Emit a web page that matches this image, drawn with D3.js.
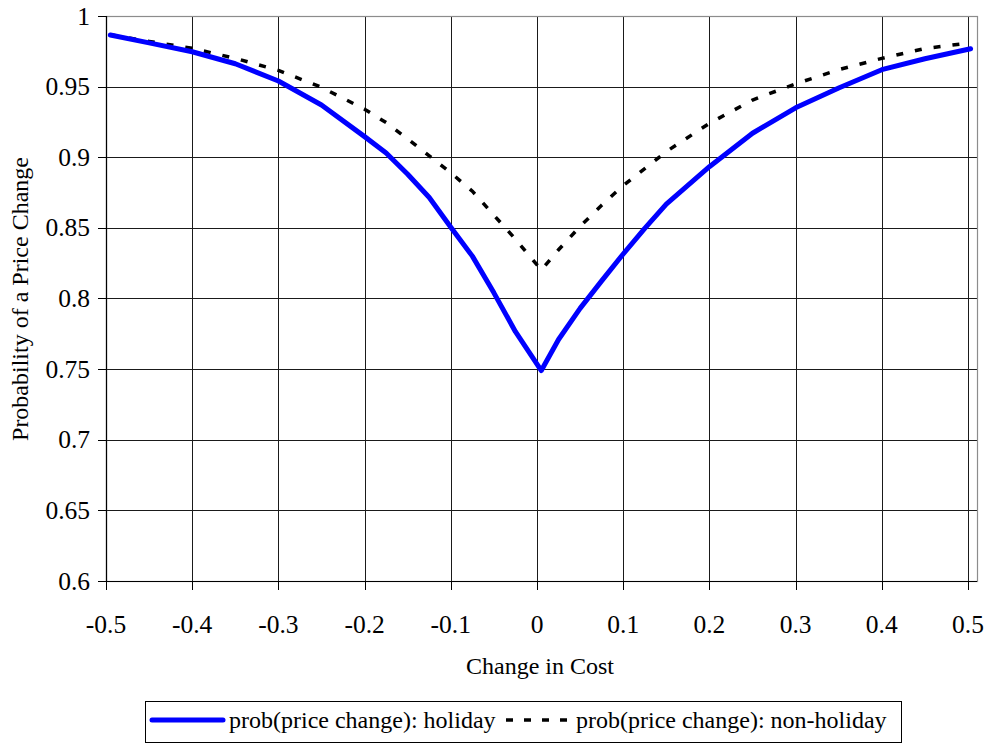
<!DOCTYPE html>
<html>
<head>
<meta charset="utf-8">
<script src="https://cdn.jsdelivr.net/npm/d3@7"></script>
<style>
  html, body { margin: 0; padding: 0; background: #fff; }
  svg { display: block; }
  svg text { font-family: "Liberation Serif", "DejaVu Serif", serif; }
</style>
</head>
<body>
<svg id="chart" width="992" height="743"></svg>
<script>
// ---- data ----
const costChange = [-0.495, -0.45, -0.4, -0.35, -0.3, -0.25, -0.2, -0.175, -0.15, -0.125, -0.1, -0.075, -0.05, -0.025, 0.005, 0.025, 0.05, 0.075, 0.1, 0.125, 0.15, 0.2, 0.25, 0.3, 0.35, 0.4, 0.45, 0.503];
const holiday = [0.9865, 0.981, 0.9747, 0.9662, 0.954, 0.937, 0.9146, 0.903, 0.888, 0.8715, 0.8505, 0.830, 0.804, 0.7765, 0.749, 0.771, 0.793, 0.8125, 0.8315, 0.8497, 0.8668, 0.8933, 0.917, 0.935, 0.949, 0.962, 0.9697, 0.9768];
const nonHoliday = [0.9868, 0.982, 0.9771, 0.970, 0.9615, 0.9495, 0.934, 0.9245, 0.913, 0.901, 0.889, 0.876, 0.859, 0.842, 0.8202, 0.8345, 0.851, 0.866, 0.880, 0.892, 0.904, 0.924, 0.9405, 0.952, 0.962, 0.970, 0.977, 0.981];
const xTicks = [-0.5, -0.4, -0.3, -0.2, -0.1, 0, 0.1, 0.2, 0.3, 0.4, 0.5];
const xTickLabels = ["-0.5", "-0.4", "-0.3", "-0.2", "-0.1", "0", "0.1", "0.2", "0.3", "0.4", "0.5"];
const yTicks = [0.6, 0.65, 0.7, 0.75, 0.8, 0.85, 0.9, 0.95, 1];
const yTickLabels = ["0.6", "0.65", "0.7", "0.75", "0.8", "0.85", "0.9", "0.95", "1"];
const seriesNames = ["prob(price change): holiday", "prob(price change): non-holiday"];
const xTitle = "Change in Cost";
const yTitle = "Probability of a Price Change";

// ---- layout ----
const FONT = "Liberation Serif, DejaVu Serif, serif";
const svg = d3.select("#chart").attr("font-family", FONT);
const pLeft = 106, pRight = 968, frameRight = 977, pTop = 16, pBottom = 581;
const x = d3.scaleLinear().domain([-0.5, 0.5]).range([pLeft, pRight]);
const y = d3.scaleLinear().domain([0.6, 1]).range([pBottom, pTop]);

// gridlines
const grid = svg.append("g");
grid.selectAll("line.v").data(xTicks.filter(d => d > -0.5)).enter().append("line")
  .attr("x1", d => Math.round(x(d)) + 0.5).attr("x2", d => Math.round(x(d)) + 0.5)
  .attr("y1", pTop).attr("y2", pBottom)
  .attr("stroke", "#1a1a1a").attr("stroke-width", 1);
grid.selectAll("line.h").data(yTicks.filter(d => d > 0.6 && d < 1)).enter().append("line")
  .attr("x1", pLeft).attr("x2", frameRight)
  .attr("y1", d => Math.round(y(d)) + 0.5).attr("y2", d => Math.round(y(d)) + 0.5)
  .attr("stroke", "#1a1a1a").attr("stroke-width", 1);

// plot frame (gray)
svg.append("rect")
  .attr("x", pLeft + 0.5).attr("y", pTop + 0.5)
  .attr("width", frameRight - pLeft).attr("height", pBottom - pTop)
  .attr("fill", "none").attr("stroke", "#8c8c8c").attr("stroke-width", 1.2);

// axes
svg.append("line").attr("x1", pLeft + 0.5).attr("x2", pLeft + 0.5).attr("y1", pTop).attr("y2", pBottom + 0.5)
  .attr("stroke", "#000").attr("stroke-width", 1.2);
svg.append("line").attr("x1", pLeft).attr("x2", frameRight).attr("y1", pBottom + 0.5).attr("y2", pBottom + 0.5)
  .attr("stroke", "#000").attr("stroke-width", 1.2);

// tick marks
svg.selectAll("line.xt").data(xTicks).enter().append("line")
  .attr("x1", d => Math.round(x(d)) + 0.5).attr("x2", d => Math.round(x(d)) + 0.5)
  .attr("y1", pBottom).attr("y2", pBottom + 9)
  .attr("stroke", "#000").attr("stroke-width", 1);
svg.selectAll("line.yt").data(yTicks).enter().append("line")
  .attr("x1", pLeft - 8).attr("x2", pLeft)
  .attr("y1", d => Math.round(y(d)) + 0.5).attr("y2", d => Math.round(y(d)) + 0.5)
  .attr("stroke", "#000").attr("stroke-width", 1);

// tick labels
svg.selectAll("text.xl").data(xTicks).enter().append("text")
  .attr("font-family", FONT)
  .attr("x", d => x(d)).attr("y", 632.5)
  .attr("text-anchor", "middle").attr("font-size", 25.5).attr("fill", "#000")
  .text((d, i) => xTickLabels[i]);
svg.selectAll("text.yl").data(yTicks).enter().append("text")
  .attr("font-family", FONT)
  .attr("x", 90).attr("y", d => y(d) + 8.5)
  .attr("text-anchor", "end").attr("font-size", 25.5).attr("fill", "#000")
  .text((d, i) => yTickLabels[i]);

// axis titles
svg.append("text").attr("font-family", FONT).attr("x", 540).attr("y", 674).attr("text-anchor", "middle")
  .attr("font-size", 24).text(xTitle);
svg.append("text").attr("font-family", FONT).attr("transform", "translate(28,299) rotate(-90)").attr("text-anchor", "middle")
  .attr("font-size", 24).text(yTitle);

// lines
const pts = (ys) => costChange.map((c, i) => [c, ys[i]]);
const line = d3.line().x(d => x(d[0])).y(d => y(d[1])).curve(d3.curveLinear);

svg.append("path").datum(pts(nonHoliday)).attr("d", line)
  .attr("fill", "none").attr("stroke", "#000").attr("stroke-width", 3.5)
  .attr("stroke-dasharray", "7,12");
svg.append("path").datum(pts(holiday)).attr("d", line)
  .attr("fill", "none").attr("stroke", "#0000ff").attr("stroke-width", 5)
  .attr("stroke-linejoin", "round").attr("stroke-linecap", "round");

// legend
const lg = svg.append("g");
lg.append("rect").attr("x", 145.5).attr("y", 701.5).attr("width", 756).attr("height", 41)
  .attr("fill", "#fff").attr("stroke", "#000").attr("stroke-width", 1);
lg.append("line").attr("x1", 152).attr("x2", 223).attr("y1", 720).attr("y2", 720)
  .attr("stroke", "#0000ff").attr("stroke-width", 5).attr("stroke-linecap", "round");
lg.append("text").attr("font-family", FONT).attr("x", 229).attr("y", 728).attr("font-size", 24).text(seriesNames[0]);
lg.append("line").attr("x1", 506).attr("x2", 573).attr("y1", 720).attr("y2", 720)
  .attr("stroke", "#000").attr("stroke-width", 3.5).attr("stroke-dasharray", "7,11");
lg.append("text").attr("font-family", FONT).attr("x", 576).attr("y", 728).attr("font-size", 24).text(seriesNames[1]);
</script>
</body>
</html>
